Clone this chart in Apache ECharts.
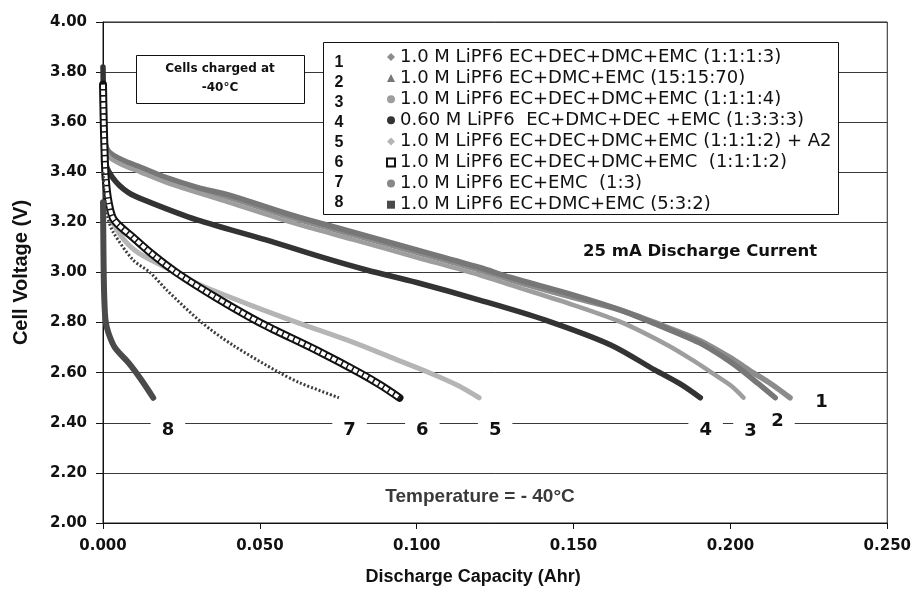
<!DOCTYPE html>
<html>
<head>
<meta charset="utf-8">
<script src="https://cdn.jsdelivr.net/npm/echarts@6/dist/echarts.min.js"></script>
<style>
html, body { margin: 0; padding: 0; background: #fff; }
#chart { width: 914px; height: 599px; }
</style>
</head>
<body>
<div id="chart"></div>
<script>
// discharge curves at -40C, [capacity Ahr, voltage V]
const curve1 = [[0, 3.62], [0.0005, 3.53], [0.002, 3.47], [0.006, 3.44], [0.012, 3.41], [0.02, 3.37], [0.03, 3.33], [0.04, 3.30], [0.06, 3.22], [0.08, 3.15], [0.10, 3.08], [0.12, 3.01], [0.13, 2.97], [0.15, 2.90], [0.165, 2.85], [0.178, 2.79], [0.19, 2.73], [0.20, 2.66], [0.206, 2.61], [0.213, 2.555], [0.219, 2.50]];
const curve2 = [[0, 3.58], [0.0005, 3.52], [0.002, 3.48], [0.006, 3.45], [0.012, 3.42], [0.02, 3.38], [0.03, 3.34], [0.04, 3.31], [0.06, 3.23], [0.08, 3.16], [0.10, 3.09], [0.12, 3.02], [0.13, 2.98], [0.15, 2.91], [0.165, 2.85], [0.177, 2.79], [0.19, 2.72], [0.198, 2.66], [0.2036, 2.61], [0.209, 2.555], [0.2143, 2.50]];
const curve3 = [[0, 3.60], [0.0005, 3.50], [0.002, 3.46], [0.006, 3.43], [0.012, 3.40], [0.02, 3.36], [0.04, 3.28], [0.06, 3.20], [0.08, 3.13], [0.10, 3.06], [0.12, 2.99], [0.13, 2.95], [0.15, 2.87], [0.1655, 2.80], [0.18, 2.71], [0.188, 2.65], [0.194, 2.60], [0.20, 2.55], [0.2042, 2.50]];
const curve4 = [[0, 3.82], [0.0002, 3.65], [0.0006, 3.45], [0.003, 3.38], [0.008, 3.32], [0.015, 3.28], [0.03, 3.21], [0.052, 3.13], [0.07, 3.06], [0.084, 3.01], [0.10, 2.96], [0.12, 2.89], [0.141, 2.81], [0.162, 2.71], [0.176, 2.61], [0.184, 2.555], [0.1904, 2.50]];
const curve5 = [[0, 3.46], [0.0005, 3.36], [0.0015, 3.27], [0.004, 3.18], [0.01, 3.09], [0.02, 3.02], [0.031, 2.95], [0.047, 2.87], [0.062, 2.80], [0.08, 2.72], [0.092, 2.66], [0.104, 2.60], [0.113, 2.55], [0.1199, 2.50]];
const curve6 = [[0, 3.75], [0.0002, 3.62], [0.0005, 3.48], [0.0009, 3.37], [0.0018, 3.28], [0.0035, 3.21], [0.0096, 3.14], [0.016, 3.07], [0.0234, 3.00], [0.036, 2.90], [0.050, 2.80], [0.068, 2.69], [0.0817, 2.60], [0.0885, 2.55], [0.0945, 2.50]];
const curve7 = [[0, 3.40], [0.0005, 3.30], [0.0015, 3.22], [0.0033, 3.16], [0.0096, 3.05], [0.015, 3.00], [0.0203, 2.93], [0.0315, 2.80], [0.0414, 2.71], [0.0563, 2.60], [0.0627, 2.56], [0.0752, 2.50]];
const curve8 = [[0, 3.28], [0.0001, 3.15], [0.0002, 3.02], [0.0004, 2.90], [0.0008, 2.81], [0.0017, 2.76], [0.0038, 2.70], [0.0081, 2.64], [0.0123, 2.57], [0.016, 2.50]];

const seriesNames = [
	'1.0 M LiPF6 EC+DEC+DMC+EMC (1:1:1:3)',
	'1.0 M LiPF6 EC+DMC+EMC (15:15:70)',
	'1.0 M LiPF6 EC+DEC+DMC+EMC (1:1:1:4)',
	'0.60 M LiPF6  EC+DMC+DEC +EMC (1:3:3:3)',
	'1.0 M LiPF6 EC+DEC+DMC+EMC (1:1:1:2) + A2',
	'1.0 M LiPF6 EC+DEC+DMC+EMC  (1:1:1:2)',
	'1.0 M LiPF6 EC+EMC  (1:3)',
	'1.0 M LiPF6 EC+DMC+EMC (5:3:2)'
];
const seriesNums = ['1', '2', '3', '4', '5', '6', '7', '8'];
// curve number tags along the 2.40 V line
const curveTags = [[0.0207, 2.37, '8'], [0.0786, 2.37, '7'], [0.1018, 2.37, '6'], [0.125, 2.37, '5'], [0.1921, 2.37, '4'], [0.2064, 2.365, '3'], [0.215, 2.405, '2'], [0.229, 2.483, '1']];

const yMin = 2, yMax = 4, yStep = 0.2;
const xMin = 0, xMax = 0.25, xStep = 0.05;

const wide = 'DejaVu Sans';
const arial = 'Liberation Sans';

function line(name, data, color, width, extra) {
	return Object.assign({
		name: name,
		type: 'line',
		data: data,
		showSymbol: false,
		smooth: 0.3,
		itemStyle: { color: color },
		lineStyle: { color: color, width: width, cap: 'round', join: 'round' }
	}, extra || {});
}

let chart = echarts.init(document.getElementById('chart'));
let option = {
	animation: false,
	backgroundColor: '#fff',
	grid: {
		left: 103, right: 25, top: 22, bottom: 76,
		show: true, borderColor: '#222', borderWidth: 1
	},
	legend: {
		orient: 'vertical',
		left: 381, top: 43,
		itemWidth: 8, itemHeight: 8,
		itemGap: 3.1,
		textStyle: { fontFamily: wide, fontSize: 18, color: '#111' },
		data: [
			{ name: seriesNames[0], icon: 'diamond' },
			{ name: seriesNames[1], icon: 'triangle' },
			{ name: seriesNames[2], icon: 'circle' },
			{ name: seriesNames[3], icon: 'circle' },
			{ name: seriesNames[4], icon: 'diamond' },
			{ name: seriesNames[5], icon: 'rect' },
			{ name: seriesNames[6], icon: 'circle' },
			{ name: seriesNames[7], icon: 'rect' }
		]
	},
	xAxis: {
		type: 'value', min: xMin, max: xMax, interval: xStep,
		name: 'Discharge Capacity (Ahr)', nameLocation: 'middle', nameGap: 45,
		nameTextStyle: { fontFamily: arial, fontWeight: 'bold', fontSize: 18, color: '#111', padding: [0, 44, 0, 0] },
		axisLine: { lineStyle: { color: '#111' } },
		axisTick: { show: true, inside: false, length: 6, lineStyle: { color: '#111' } },
		axisLabel: { margin: 16, fontFamily: wide, fontWeight: 'bold', fontSize: 15, color: '#111', formatter: v => v.toFixed(3) },
		splitLine: { show: false }
	},
	yAxis: {
		type: 'value', min: yMin, max: yMax, interval: yStep,
		name: 'Cell Voltage (V)', nameLocation: 'middle', nameGap: 72, nameRotate: 90,
		nameTextStyle: { fontFamily: arial, fontWeight: 'bold', fontSize: 20, color: '#111' },
		axisLine: { show: true, lineStyle: { color: '#111' } },
		axisTick: { show: true, inside: false, length: 7, lineStyle: { color: '#111' } },
		axisLabel: { margin: 16, fontFamily: wide, fontWeight: 'bold', fontSize: 15, color: '#111', formatter: v => v.toFixed(2) },
		splitLine: { show: true, lineStyle: { color: '#3a3a3a', width: 1 } }
	},
	series: [
		line(seriesNames[0], curve1, '#8c8c8c', 5.5),
		line(seriesNames[1], curve2, '#777', 5.5),
		line(seriesNames[2], curve3, '#9e9e9e', 4.5),
		line(seriesNames[3], curve4, '#333', 5.5),
		line(seriesNames[4], curve5, '#b5b5b5', 5),
		line(seriesNames[5], curve6, '#111', 8, { itemStyle: { color: '#fff', borderColor: '#111', borderWidth: 1 } }),
		// hollow squares look: white dashes over the black band
		line('', curve6, '#fff', 4, { lineStyle: { color: '#fff', width: 4, type: [4.5, 1.5] }, legendHoverLink: false }),
		line(seriesNames[6], curve7, '#3d3d3d', 3, { itemStyle: { color: '#888' }, lineStyle: { color: '#3d3d3d', width: 3, type: [2, 2] } }),
		line(seriesNames[7], curve8, '#4a4a4a', 6),
		{
			type: 'scatter',
			data: curveTags,
			symbolSize: 0,
			silent: true,
			z: 5,
			itemStyle: { opacity: 1 },
			label: {
				show: true, position: 'inside',
				formatter: p => p.value[2],
				fontFamily: wide, fontWeight: 'bold', fontSize: 18, color: '#111', opacity: 1,
				backgroundColor: '#fff', padding: [6, 11]
			}
		}
	],
	graphic: [
		// legend box
		{ type: 'rect', left: 323, top: 42, z: 1, shape: { width: 515, height: 172 }, style: { fill: '#fff', stroke: '#111', lineWidth: 1 } },
		// charge note box
		{ type: 'rect', left: 136, top: 55, z: 1, shape: { width: 168, height: 48 }, style: { fill: '#fff', stroke: '#111', lineWidth: 1 } },
		{ type: 'text', z: 3, style: { text: 'Cells charged at', x: 220, y: 69, align: 'center', verticalAlign: 'middle', font: 'bold 12px "DejaVu Sans"', fill: '#111' } },
		{ type: 'text', z: 3, style: { text: '-40°C', x: 220, y: 88, align: 'center', verticalAlign: 'middle', font: 'bold 12px "DejaVu Sans"', fill: '#111' } },
		{ type: 'text', z: 3, style: { text: '25 mA Discharge Current', x: 583, y: 252, align: 'left', verticalAlign: 'middle', font: 'bold 16.5px "DejaVu Sans"', fill: '#111' } },
		{ type: 'text', z: 3, style: { text: 'Temperature = - 40°C', x: 480, y: 497, align: 'center', verticalAlign: 'middle', font: 'bold 19px "Liberation Sans Narrow", "Liberation Sans"', fill: '#3a3a3a' } }
	].concat(seriesNums.map((n, i) => ({
		type: 'text', z: 3,
		style: { text: n, x: 339, y: 63 + i * 20, align: 'center', verticalAlign: 'middle', font: 'bold 16px "Liberation Sans"', fill: '#111' }
	})))
};
chart.setOption(option);
</script>
</body>
</html>
